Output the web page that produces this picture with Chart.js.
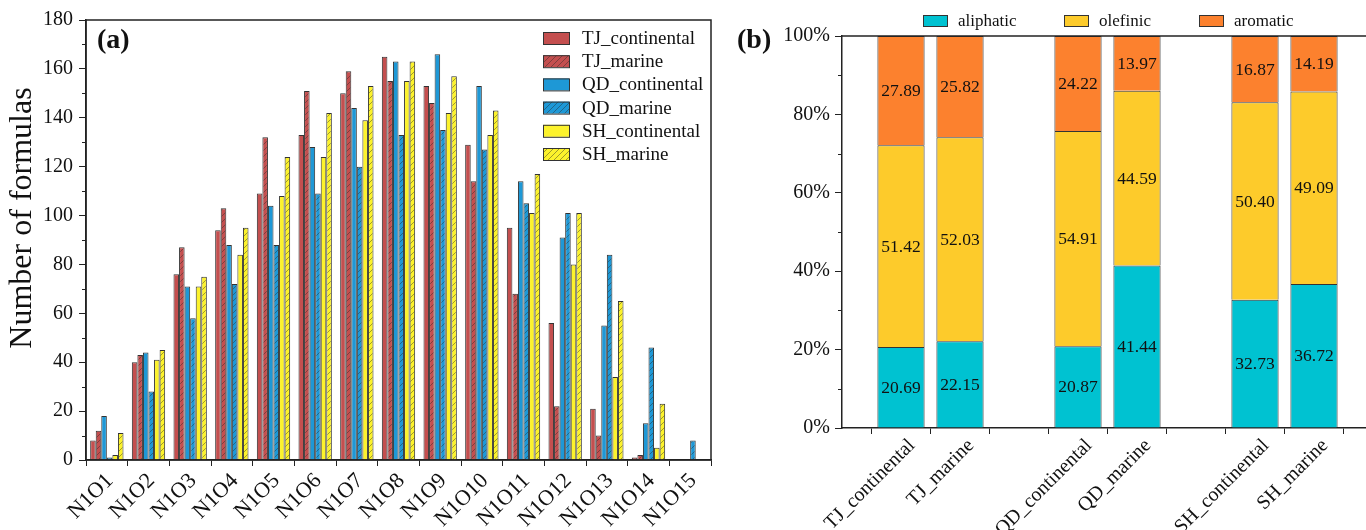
<!DOCTYPE html>
<html>
<head>
<meta charset="utf-8">
<script src="https://cdn.jsdelivr.net/npm/chart.js@4.4.1/dist/chart.umd.min.js"></script>
<style>
  html, body { margin: 0; padding: 0; background: #fff; overflow: hidden; }
  #wrap { position: relative; width: 1366px; height: 530px; overflow: hidden; }
  #chartA { position: absolute; left: 0; top: 0; }
  #chartB { position: absolute; left: 720px; top: 0; }
</style>
</head>
<body>
<div id="wrap">
  <canvas id="chartA" width="720" height="530"></canvas>
  <canvas id="chartB" width="700" height="530"></canvas>
</div>
<script>
// (a) number of formulas per N1Ox class
const formulaLabels = ['N1O1', 'N1O2', 'N1O3', 'N1O4', 'N1O5', 'N1O6', 'N1O7', 'N1O8',
  'N1O9', 'N1O10', 'N1O11', 'N1O12', 'N1O13', 'N1O14', 'N1O15'];
const tjContinental = [8, 40, 76, 94, 109, 133, 150, 165, 153, 129, 95, 56, 21, 1, 0];
const tjMarine = [12, 43, 87, 103, 132, 151, 159, 155, 146, 114, 68, 22, 10, 2, 0];
const qdContinental = [18, 44, 71, 88, 104, 128, 144, 163, 166, 153, 114, 91, 55, 15, 0];
const qdMarine = [1, 28, 58, 72, 88, 109, 120, 133, 135, 127, 105, 101, 84, 46, 8];
const shContinental = [2, 41, 71, 84, 108, 124, 139, 155, 142, 133, 101, 80, 34, 5, 0];
const shMarine = [11, 45, 75, 95, 124, 142, 153, 163, 157, 143, 117, 101, 65, 23, 0];
const formulaTicks = [0, 20, 40, 60, 80, 100, 120, 140, 160, 180];

// (b) percentage composition
const sampleLabels = ['TJ_continental', 'TJ_marine', 'QD_continental', 'QD_marine', 'SH_continental', 'SH_marine'];
const aliphatic = [20.69, 22.15, 20.87, 41.44, 32.73, 36.72];
const olefinic = [51.42, 52.03, 54.91, 44.59, 50.40, 49.09];
const aromatic = [27.89, 25.82, 24.22, 13.97, 16.87, 14.19];
const percentTicks = [0, 20, 40, 60, 80, 100];

const serif = '"Liberation Serif", "Times New Roman", serif';
Chart.defaults.font.family = serif;
Chart.defaults.color = '#111';

const RED = '#C44F4F', BLUE = '#1E98D6', YELLOW = '#FCF22C';
const CYAN = '#00C2D1', GOLD = '#FDCB2B', ORANGE = '#FC812E';
const AXIS = '#222';

function hatch(color) {
  const c = document.createElement('canvas');
  c.width = 6; c.height = 6;
  const g = c.getContext('2d');
  g.fillStyle = color;
  g.fillRect(0, 0, 6, 6);
  g.strokeStyle = 'rgba(40,40,40,0.55)';
  g.lineWidth = 0.8;
  g.beginPath();
  g.moveTo(0, 6); g.lineTo(6, 0);
  g.moveTo(-1, 1); g.lineTo(1, -1);
  g.moveTo(5, 7); g.lineTo(7, 5);
  g.stroke();
  return g.createPattern(c, 'repeat');
}

// put the two sites of each pair side by side with an empty slot between pairs
function spread(values, blank) {
  const out = [blank];
  values.forEach((v, i) => { out.push(v); if (i % 2 === 1) out.push(blank); });
  return out;
}

function minorTicks(ctx, scale, values, len) {
  ctx.save();
  ctx.strokeStyle = AXIS;
  ctx.lineWidth = 1;
  values.forEach(v => {
    const y = Math.round(scale.getPixelForValue(v)) + 0.5;
    ctx.beginPath();
    ctx.moveTo(scale.right - len, y);
    ctx.lineTo(scale.right, y);
    ctx.stroke();
  });
  ctx.restore();
}

function drawLegendItem(ctx, item, x, y, w, h, textX, font) {
  ctx.fillStyle = item.fillStyle;
  ctx.fillRect(x, y - h / 2, w, h);
  ctx.strokeStyle = '#333';
  ctx.lineWidth = 1;
  ctx.strokeRect(x + 0.5, y - h / 2 + 0.5, w, h);
  ctx.fillStyle = '#111';
  ctx.font = font;
  ctx.textAlign = 'left';
  ctx.textBaseline = 'middle';
  ctx.fillText(item.text, textX, y + 1);
}

const barStyle = { borderColor: '#333', borderWidth: 1 };

const panelA = {
  id: 'panelA',
  afterDraw(chart) {
    const { ctx, chartArea: a } = chart;
    ctx.save();
    ctx.strokeStyle = AXIS;
    ctx.lineWidth = 1.5;
    ctx.strokeRect(a.left, a.top, a.right - a.left, a.bottom - a.top);
    minorTicks(ctx, chart.scales.y, [10, 30, 50, 70, 90, 110, 130, 150, 170], 4);

    ctx.fillStyle = '#111';
    ctx.font = 'bold 28px ' + serif;
    ctx.textAlign = 'left';
    ctx.textBaseline = 'middle';
    ctx.fillText('(a)', 97, 41);

    ctx.save();
    ctx.translate(23, 218);
    ctx.rotate(-Math.PI / 2);
    ctx.font = '32px ' + serif;
    ctx.textAlign = 'center';
    ctx.textBaseline = 'middle';
    ctx.fillText('Number of formulas', 0, 0);
    ctx.restore();

    const items = Chart.defaults.plugins.legend.labels.generateLabels(chart);
    items.forEach((it, i) => drawLegendItem(ctx, it, 543, 38 + i * 23.2, 26, 12, 582, '19px ' + serif));
    ctx.restore();
  }
};

new Chart(document.getElementById('chartA'), {
  type: 'bar',
  data: {
    labels: formulaLabels,
    datasets: [
      { label: 'TJ_continental', data: tjContinental, backgroundColor: RED, ...barStyle },
      { label: 'TJ_marine', data: tjMarine, backgroundColor: hatch(RED), ...barStyle },
      { label: 'QD_continental', data: qdContinental, backgroundColor: BLUE, ...barStyle },
      { label: 'QD_marine', data: qdMarine, backgroundColor: hatch(BLUE), ...barStyle },
      { label: 'SH_continental', data: shContinental, backgroundColor: YELLOW, ...barStyle },
      { label: 'SH_marine', data: shMarine, backgroundColor: hatch(YELLOW), ...barStyle }
    ]
  },
  options: {
    responsive: false,
    animation: false,
    categoryPercentage: 0.8,
    barPercentage: 1.0,
    layout: { padding: { top: 20, right: 9, left: 0, bottom: 0 } },
    plugins: { legend: { display: false }, tooltip: { enabled: false } },
    scales: {
      x: {
        grid: { drawOnChartArea: false, offset: true, tickLength: 6, color: AXIS, tickWidth: 1 },
        border: { color: AXIS, width: 1.5 },
        ticks: { font: { size: 22 }, color: '#111', minRotation: 45, maxRotation: 45, autoSkip: false, padding: 2, labelOffset: 3 },
        afterFit: s => { s.height = 70; }
      },
      y: {
        min: 0, max: 180,
        afterBuildTicks: s => { s.ticks = formulaTicks.map(v => ({ value: v })); },
        grid: { drawOnChartArea: false, tickLength: 7, color: AXIS },
        border: { color: AXIS, width: 1.5 },
        ticks: { font: { size: 20 }, color: '#111', padding: 6 },
        afterFit: s => { s.width = 86; }
      }
    }
  },
  plugins: [panelA]
});

const panelB = {
  id: 'panelB',
  afterDatasetsDraw(chart) {
    const { ctx } = chart;
    ctx.save();
    ctx.fillStyle = '#111';
    ctx.font = '17.5px ' + serif;
    ctx.textAlign = 'center';
    ctx.textBaseline = 'middle';
    chart.data.datasets.forEach((ds, di) => {
      chart.getDatasetMeta(di).data.forEach((el, i) => {
        const v = ds.data[i];
        if (v == null) return;
        ctx.fillText(v.toFixed(2), el.x, (el.y + el.base) / 2 + 1);
      });
    });
    ctx.restore();
  },
  afterDraw(chart) {
    const { ctx, chartArea: a } = chart;
    ctx.save();
    ctx.strokeStyle = AXIS;
    ctx.lineWidth = 1.5;
    ctx.beginPath();
    ctx.moveTo(a.left, a.top);
    ctx.lineTo(a.right, a.top);
    ctx.stroke();
    minorTicks(ctx, chart.scales.y, [10, 30, 50, 70, 90], 4);

    ctx.fillStyle = '#111';
    ctx.font = 'bold 28px ' + serif;
    ctx.textAlign = 'left';
    ctx.textBaseline = 'middle';
    ctx.fillText('(b)', 17, 41);

    const items = Chart.defaults.plugins.legend.labels.generateLabels(chart);
    const boxX = [203, 344, 479];
    items.forEach((it, i) => drawLegendItem(ctx, it, boxX[i], 20.5, 24, 11, boxX[i] + 35, '17px ' + serif));
    ctx.restore();
  }
};

new Chart(document.getElementById('chartB'), {
  type: 'bar',
  data: {
    labels: spread(sampleLabels, ''),
    datasets: [
      { label: 'aliphatic', data: spread(aliphatic, null), backgroundColor: CYAN, ...barStyle },
      { label: 'olefinic', data: spread(olefinic, null), backgroundColor: GOLD, ...barStyle },
      { label: 'aromatic', data: spread(aromatic, null), backgroundColor: ORANGE, ...barStyle }
    ]
  },
  options: {
    responsive: false,
    animation: false,
    categoryPercentage: 1.0,
    barPercentage: 0.8,
    layout: { padding: { top: 36, right: 47, left: 0, bottom: 0 } },
    plugins: { legend: { display: false }, tooltip: { enabled: false } },
    scales: {
      x: {
        stacked: true,
        offset: false,
        grid: { drawOnChartArea: false, offset: true, tickLength: 6, color: AXIS },
        border: { color: AXIS, width: 1.5 },
        ticks: { font: { size: 20 }, color: '#111', minRotation: 45, maxRotation: 45, autoSkip: false, padding: 0, labelOffset: 11 },
        afterFit: s => { s.height = 102; }
      },
      y: {
        stacked: true,
        min: 0, max: 100,
        afterBuildTicks: s => { s.ticks = percentTicks.map(v => ({ value: v })); },
        grid: { drawOnChartArea: false, tickLength: 7, color: AXIS },
        border: { color: AXIS, width: 1.5 },
        ticks: { font: { size: 20 }, color: '#111', padding: 5, callback: v => v + '%' },
        afterFit: s => { s.width = 122; }
      }
    }
  },
  plugins: [panelB]
});
</script>
</body>
</html>
